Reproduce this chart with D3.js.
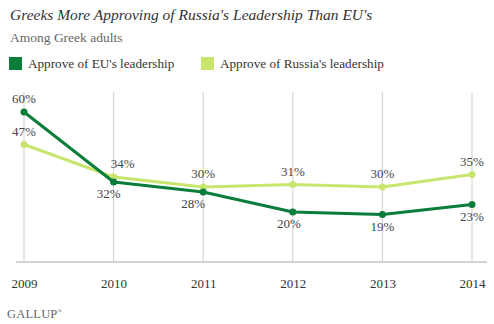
<!DOCTYPE html>
<html>
<head>
<meta charset="utf-8">
<script src="https://cdn.jsdelivr.net/npm/d3@7"></script>
<style>
  body { margin: 0; background: #fff; }
  svg { display: block; }
  text { font-family: "Liberation Serif", "DejaVu Serif", serif; }
  .title { font-style: italic; font-size: 15.5px; fill: #333; }
  .subtitle { font-size: 13.5px; fill: #666; }
  .legend-label { font-size: 13.2px; fill: #333; }
  .axis text { font-size: 13px; fill: #333; font-family: "Liberation Serif", serif; }
  .value-label { font-size: 13px; fill: #444; }
  .brand { font-size: 12.5px; fill: #666; letter-spacing: 0.2px; }
</style>
</head>
<body>
<svg id="chart"></svg>
<script>
const years = ['2009', '2010', '2011', '2012', '2013', '2014'];
const euApproval = [60, 32, 28, 20, 19, 23];
const russiaApproval = [47, 34, 30, 31, 30, 35];
const seriesNames = ["Approve of EU's leadership", "Approve of Russia's leadership"];

const colors = ['#0a7d3a', '#c8e66e'];

const width = 494, height = 324;
const svg = d3.select('#chart').attr('width', width).attr('height', height);

svg.append('text').attr('class', 'title').attr('x', 10).attr('y', 20)
  .text("Greeks More Approving of Russia's Leadership Than EU's");
svg.append('text').attr('class', 'subtitle').attr('x', 10).attr('y', 42)
  .text('Among Greek adults');

// legend
const legendX = [9, 201];
const legend = svg.selectAll('.legend').data(seriesNames).join('g')
  .attr('class', 'legend')
  .attr('transform', (d, i) => `translate(${legendX[i]},57)`);
legend.append('rect').attr('width', 13).attr('height', 13)
  .attr('fill', (d, i) => colors[i]);
legend.append('text').attr('class', 'legend-label')
  .attr('x', 19).attr('y', 11).text(d => d);

const x = d3.scalePoint().domain(years).range([24, 472]);
const y = d3.scaleLinear().domain([0, 68]).range([262, 92]);

// vertical gridlines
svg.append('g').selectAll('line').data(years).join('line')
  .attr('x1', d => x(d)).attr('x2', d => x(d))
  .attr('y1', y(68)).attr('y2', y(0))
  .attr('stroke', '#cfcfcf').attr('stroke-width', 1);

// baseline
svg.append('line').attr('x1', 16).attr('x2', 487)
  .attr('y1', y(0)).attr('y2', y(0))
  .attr('stroke', '#d3d3cf').attr('stroke-width', 2);

const xAxis = svg.append('g').attr('class', 'axis')
  .attr('transform', `translate(0,${y(0) + 11})`)
  .call(d3.axisBottom(x).tickSize(0).tickPadding(6));
xAxis.attr('font-family', null).attr('font-size', null);
xAxis.select('.domain').remove();

const series = [
  { values: euApproval, color: colors[0], above: false },
  { values: russiaApproval, color: colors[1], above: true }
];

const line = d3.line().x((d, i) => x(years[i])).y(d => y(d));

// draw light series first, dark on top
[series[1], series[0]].forEach(s => {
  svg.append('path').datum(s.values)
    .attr('d', line)
    .attr('fill', 'none')
    .attr('stroke', s.color)
    .attr('stroke-width', 3)
    .attr('stroke-linejoin', 'round');
  svg.append('g').selectAll('circle').data(s.values).join('circle')
    .attr('cx', (d, i) => x(years[i]))
    .attr('cy', d => y(d))
    .attr('r', 3.5)
    .attr('fill', s.color);
});

// small label nudges where lines cross
const nudgeEU = [0, -5, -10, -4, 0, 0];
const nudgeRu = [0, 9, 0, 0, 0, 0];

series.forEach((s, si) => {
  const nudge = si === 0 ? nudgeEU : nudgeRu;
  svg.append('g').selectAll('text').data(s.values).join('text')
    .attr('class', 'value-label')
    .attr('text-anchor', 'middle')
    .attr('x', (d, i) => x(years[i]) + nudge[i])
    .attr('y', (d, i) => {
      // first EU point labelled above, like the original
      const above = s.above || i === 0;
      return above ? y(d) - 9 : y(d) + 16;
    })
    .text(d => d + '%');
});

const brand = svg.append('text').attr('class', 'brand').attr('x', 7).attr('y', 318);
brand.append('tspan').text('GALLUP');
brand.append('tspan').attr('font-size', 6).attr('dy', -5).text('®');
</script>
</body>
</html>
